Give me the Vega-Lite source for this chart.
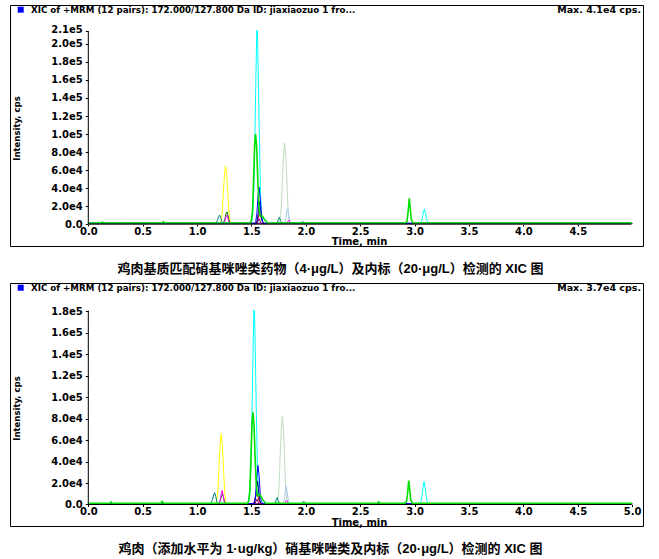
{
  "$schema": "https://vega.github.io/schema/vega-lite/v6.json",
  "background": "white",
  "padding": {"left": 9, "top": 4, "right": 5, "bottom": 5},
  "config": {
    "view": {"stroke": "black", "strokeWidth": 1},
    "font": "DejaVu Sans",
    "axis": {
      "grid": false,
      "domain": false,
      "labelFont": "DejaVu Sans",
      "labelFontWeight": "bold",
      "labelFontSize": 10,
      "labelColor": "black",
      "tickColor": "black",
      "titleFont": "DejaVu Sans",
      "titleFontWeight": "bold",
      "titleColor": "black",
      "labelOverlap": false,
      "labelFlush": false,
      "tickCount": 40
    }
  },
  "spacing": 37,
  "bounds": "flush",
  "datasets": {
    "A": [
      {"s":"q","t":0,"v":300},{"s":"q","t":1.75,"v":300},{"s":"q","t":1.765,"v":5400},{"s":"q","t":1.775,"v":20000},{"s":"q","t":1.785,"v":50000},{"s":"q","t":1.795,"v":76000},{"s":"q","t":1.805,"v":90000},{"s":"q","t":1.815,"v":76000},{"s":"q","t":1.825,"v":50000},{"s":"q","t":1.835,"v":20000},{"s":"q","t":1.845,"v":5400},{"s":"q","t":1.86,"v":300},{"s":"q","t":5,"v":300},
      {"s":"l","t":0,"v":200},{"s":"l","t":1.80,"v":200},{"s":"l","t":1.815,"v":6000},{"s":"l","t":1.825,"v":14000},{"s":"l","t":1.832,"v":17000},{"s":"l","t":1.842,"v":10000},{"s":"l","t":1.852,"v":3000},{"s":"l","t":1.865,"v":200},{"s":"l","t":5,"v":200},
      {"s":"y","t":0,"v":400},{"s":"y","t":1.207,"v":400},{"s":"y","t":1.222,"v":3900},{"s":"y","t":1.232,"v":14000},{"s":"y","t":1.242,"v":35500},{"s":"y","t":1.252,"v":55000},{"s":"y","t":1.262,"v":64500},{"s":"y","t":1.272,"v":55000},{"s":"y","t":1.282,"v":35500},{"s":"y","t":1.292,"v":14000},{"s":"y","t":1.302,"v":3900},{"s":"y","t":1.317,"v":400},{"s":"y","t":5,"v":400},
      {"s":"c","t":0,"v":600},{"s":"c","t":1.497,"v":600},{"s":"c","t":1.512,"v":10000},{"s":"c","t":1.522,"v":40000},{"s":"c","t":1.532,"v":100000},{"s":"c","t":1.542,"v":170000},{"s":"c","t":1.549,"v":215000},{"s":"c","t":1.555,"v":215000},{"s":"c","t":1.562,"v":170000},{"s":"c","t":1.572,"v":100000},{"s":"c","t":1.582,"v":40000},{"s":"c","t":1.592,"v":10000},{"s":"c","t":1.607,"v":600},{"s":"c","t":3.045,"v":600},{"s":"c","t":3.06,"v":1500},{"s":"c","t":3.07,"v":6000},{"s":"c","t":3.08,"v":12000},{"s":"c","t":3.09,"v":16700},{"s":"c","t":3.10,"v":12000},{"s":"c","t":3.11,"v":6000},{"s":"c","t":3.12,"v":1500},{"s":"c","t":3.135,"v":600},{"s":"c","t":5,"v":600},
      {"s":"t","t":0,"v":900},{"s":"t","t":0.35,"v":900},{"s":"t","t":0.36,"v":1800},{"s":"t","t":0.37,"v":900},{"s":"t","t":1.17,"v":900},{"s":"t","t":1.187,"v":4000},{"s":"t","t":1.197,"v":8000},{"s":"t","t":1.207,"v":10000},{"s":"t","t":1.217,"v":7000},{"s":"t","t":1.227,"v":2500},{"s":"t","t":1.24,"v":900},{"s":"t","t":1.735,"v":900},{"s":"t","t":1.748,"v":5000},{"s":"t","t":1.757,"v":7500},{"s":"t","t":1.767,"v":4000},{"s":"t","t":1.78,"v":900},{"s":"t","t":1.95,"v":900},{"s":"t","t":1.97,"v":2800},{"s":"t","t":1.99,"v":900},{"s":"t","t":5,"v":900},
      {"s":"d","t":0,"v":700},{"s":"d","t":1.24,"v":700},{"s":"d","t":1.255,"v":5000},{"s":"d","t":1.265,"v":11000},{"s":"d","t":1.275,"v":13500},{"s":"d","t":1.285,"v":9000},{"s":"d","t":1.295,"v":3500},{"s":"d","t":1.31,"v":700},{"s":"d","t":5,"v":700},
      {"s":"m","t":0,"v":500},{"s":"m","t":1.24,"v":500},{"s":"m","t":1.257,"v":4000},{"s":"m","t":1.267,"v":8500},{"s":"m","t":1.275,"v":10000},{"s":"m","t":1.285,"v":6000},{"s":"m","t":1.297,"v":500},{"s":"m","t":1.825,"v":500},{"s":"m","t":1.835,"v":3000},{"s":"m","t":1.843,"v":4500},{"s":"m","t":1.853,"v":2500},{"s":"m","t":1.865,"v":500},{"s":"m","t":5,"v":500},
      {"s":"r","t":0,"v":500},{"s":"r","t":1.54,"v":500},{"s":"r","t":1.555,"v":4000},{"s":"r","t":1.565,"v":9000},{"s":"r","t":1.575,"v":12500},{"s":"r","t":1.585,"v":9000},{"s":"r","t":1.595,"v":4000},{"s":"r","t":1.61,"v":500},{"s":"r","t":5,"v":500},
      {"s":"p","t":0,"v":400},{"s":"p","t":1.55,"v":400},{"s":"p","t":1.56,"v":3000},{"s":"p","t":1.57,"v":6000},{"s":"p","t":1.58,"v":3000},{"s":"p","t":1.59,"v":400},{"s":"p","t":5,"v":400},
      {"s":"n","t":0,"v":600},{"s":"n","t":1.545,"v":600},{"s":"n","t":1.555,"v":5000},{"s":"n","t":1.565,"v":15000},{"s":"n","t":1.575,"v":25000},{"s":"n","t":1.585,"v":15000},{"s":"n","t":1.595,"v":5000},{"s":"n","t":1.61,"v":600},{"s":"n","t":5,"v":600},
      {"s":"b","t":0,"v":800},{"s":"b","t":1.53,"v":800},{"s":"b","t":1.54,"v":3000},{"s":"b","t":1.55,"v":12000},{"s":"b","t":1.56,"v":30000},{"s":"b","t":1.57,"v":41000},{"s":"b","t":1.58,"v":30000},{"s":"b","t":1.59,"v":12000},{"s":"b","t":1.60,"v":3000},{"s":"b","t":1.615,"v":800},{"s":"b","t":5,"v":800},
      {"s":"g","t":0,"v":1200},{"s":"g","t":0.12,"v":1200},{"s":"g","t":0.13,"v":2200},{"s":"g","t":0.14,"v":1200},{"s":"g","t":0.68,"v":1200},{"s":"g","t":0.69,"v":2500},{"s":"g","t":0.70,"v":1200},{"s":"g","t":1.49,"v":1200},{"s":"g","t":1.50,"v":4000},{"s":"g","t":1.51,"v":15000},{"s":"g","t":1.52,"v":50000},{"s":"g","t":1.53,"v":90000},{"s":"g","t":1.538,"v":100000},{"s":"g","t":1.548,"v":85000},{"s":"g","t":1.558,"v":50000},{"s":"g","t":1.568,"v":22000},{"s":"g","t":1.578,"v":9000},{"s":"g","t":1.60,"v":9000},{"s":"g","t":1.62,"v":5000},{"s":"g","t":1.65,"v":1200},{"s":"g","t":2.915,"v":1200},{"s":"g","t":2.93,"v":3000},{"s":"g","t":2.94,"v":13000},{"s":"g","t":2.951,"v":28500},{"s":"g","t":2.96,"v":17000},{"s":"g","t":2.97,"v":5000},{"s":"g","t":2.985,"v":1200},{"s":"g","t":5,"v":1200}
    ],
    "B": [
      {"s":"q","t":0,"v":300},{"s":"q","t":1.729,"v":300},{"s":"q","t":1.744,"v":4900},{"s":"q","t":1.754,"v":18000},{"s":"q","t":1.764,"v":45000},{"s":"q","t":1.774,"v":70000},{"s":"q","t":1.784,"v":82000},{"s":"q","t":1.794,"v":70000},{"s":"q","t":1.804,"v":45000},{"s":"q","t":1.814,"v":18000},{"s":"q","t":1.824,"v":4900},{"s":"q","t":1.839,"v":300},{"s":"q","t":5,"v":300},
      {"s":"l","t":0,"v":200},{"s":"l","t":1.79,"v":200},{"s":"l","t":1.805,"v":6000},{"s":"l","t":1.813,"v":14000},{"s":"l","t":1.82,"v":17000},{"s":"l","t":1.83,"v":10000},{"s":"l","t":1.84,"v":3000},{"s":"l","t":1.855,"v":200},{"s":"l","t":5,"v":200},
      {"s":"y","t":0,"v":400},{"s":"y","t":1.167,"v":400},{"s":"y","t":1.182,"v":4000},{"s":"y","t":1.192,"v":14500},{"s":"y","t":1.202,"v":36300},{"s":"y","t":1.212,"v":56000},{"s":"y","t":1.222,"v":66000},{"s":"y","t":1.232,"v":56000},{"s":"y","t":1.242,"v":36300},{"s":"y","t":1.252,"v":14500},{"s":"y","t":1.262,"v":4000},{"s":"y","t":1.277,"v":400},{"s":"y","t":5,"v":400},
      {"s":"c","t":0,"v":600},{"s":"c","t":1.47,"v":600},{"s":"c","t":1.485,"v":8000},{"s":"c","t":1.495,"v":34000},{"s":"c","t":1.505,"v":85000},{"s":"c","t":1.515,"v":145000},{"s":"c","t":1.522,"v":181000},{"s":"c","t":1.528,"v":181000},{"s":"c","t":1.535,"v":145000},{"s":"c","t":1.545,"v":85000},{"s":"c","t":1.555,"v":34000},{"s":"c","t":1.565,"v":8000},{"s":"c","t":1.58,"v":600},{"s":"c","t":3.042,"v":600},{"s":"c","t":3.057,"v":2000},{"s":"c","t":3.067,"v":7500},{"s":"c","t":3.077,"v":15500},{"s":"c","t":3.087,"v":21500},{"s":"c","t":3.097,"v":15500},{"s":"c","t":3.107,"v":7500},{"s":"c","t":3.117,"v":2000},{"s":"c","t":3.132,"v":600},{"s":"c","t":5,"v":600},
      {"s":"t","t":0,"v":900},{"s":"t","t":1.125,"v":900},{"s":"t","t":1.142,"v":4500},{"s":"t","t":1.152,"v":9000},{"s":"t","t":1.162,"v":11000},{"s":"t","t":1.172,"v":7500},{"s":"t","t":1.182,"v":2500},{"s":"t","t":1.195,"v":900},{"s":"t","t":1.715,"v":900},{"s":"t","t":1.728,"v":4500},{"s":"t","t":1.737,"v":6500},{"s":"t","t":1.747,"v":3500},{"s":"t","t":1.76,"v":900},{"s":"t","t":1.96,"v":900},{"s":"t","t":1.98,"v":3000},{"s":"t","t":2.0,"v":900},{"s":"t","t":5,"v":900},
      {"s":"d","t":0,"v":700},{"s":"d","t":1.2,"v":700},{"s":"d","t":1.215,"v":4000},{"s":"d","t":1.225,"v":8500},{"s":"d","t":1.233,"v":10000},{"s":"d","t":1.243,"v":6500},{"s":"d","t":1.253,"v":2500},{"s":"d","t":1.268,"v":700},{"s":"d","t":5,"v":700},
      {"s":"m","t":0,"v":500},{"s":"m","t":1.2,"v":500},{"s":"m","t":1.215,"v":5000},{"s":"m","t":1.224,"v":11000},{"s":"m","t":1.231,"v":13000},{"s":"m","t":1.241,"v":8000},{"s":"m","t":1.25,"v":2500},{"s":"m","t":1.262,"v":500},{"s":"m","t":1.805,"v":500},{"s":"m","t":1.815,"v":2800},{"s":"m","t":1.823,"v":4000},{"s":"m","t":1.833,"v":2200},{"s":"m","t":1.845,"v":500},{"s":"m","t":5,"v":500},
      {"s":"r","t":0,"v":500},{"s":"r","t":1.515,"v":500},{"s":"r","t":1.53,"v":3500},{"s":"r","t":1.54,"v":7500},{"s":"r","t":1.55,"v":10000},{"s":"r","t":1.56,"v":7500},{"s":"r","t":1.57,"v":3000},{"s":"r","t":1.585,"v":500},{"s":"r","t":5,"v":500},
      {"s":"p","t":0,"v":400},{"s":"p","t":1.53,"v":400},{"s":"p","t":1.54,"v":2500},{"s":"p","t":1.55,"v":5000},{"s":"p","t":1.56,"v":2500},{"s":"p","t":1.57,"v":400},{"s":"p","t":5,"v":400},
      {"s":"n","t":0,"v":600},{"s":"n","t":1.525,"v":600},{"s":"n","t":1.535,"v":5000},{"s":"n","t":1.545,"v":14000},{"s":"n","t":1.555,"v":22000},{"s":"n","t":1.565,"v":14000},{"s":"n","t":1.575,"v":4500},{"s":"n","t":1.59,"v":600},{"s":"n","t":5,"v":600},
      {"s":"b","t":0,"v":800},{"s":"b","t":1.52,"v":800},{"s":"b","t":1.53,"v":3000},{"s":"b","t":1.54,"v":11000},{"s":"b","t":1.55,"v":27000},{"s":"b","t":1.56,"v":36400},{"s":"b","t":1.57,"v":27000},{"s":"b","t":1.58,"v":11000},{"s":"b","t":1.59,"v":3000},{"s":"b","t":1.605,"v":800},{"s":"b","t":5,"v":800},
      {"s":"g","t":0,"v":1200},{"s":"g","t":0.2,"v":1200},{"s":"g","t":0.21,"v":2300},{"s":"g","t":0.22,"v":1200},{"s":"g","t":0.67,"v":1200},{"s":"g","t":0.68,"v":2800},{"s":"g","t":0.69,"v":1200},{"s":"g","t":1.465,"v":1200},{"s":"g","t":1.475,"v":4000},{"s":"g","t":1.485,"v":13000},{"s":"g","t":1.495,"v":42000},{"s":"g","t":1.505,"v":76000},{"s":"g","t":1.514,"v":86000},{"s":"g","t":1.524,"v":73000},{"s":"g","t":1.534,"v":43000},{"s":"g","t":1.544,"v":19000},{"s":"g","t":1.555,"v":8000},{"s":"g","t":1.58,"v":9000},{"s":"g","t":1.60,"v":5000},{"s":"g","t":1.63,"v":1200},{"s":"g","t":2.66,"v":1200},{"s":"g","t":2.67,"v":2500},{"s":"g","t":2.68,"v":1200},{"s":"g","t":2.91,"v":1200},{"s":"g","t":2.925,"v":2500},{"s":"g","t":2.935,"v":10000},{"s":"g","t":2.946,"v":22400},{"s":"g","t":2.955,"v":14000},{"s":"g","t":2.965,"v":4000},{"s":"g","t":2.98,"v":1200},{"s":"g","t":5,"v":1200}
    ]
  },
  "vconcat": [
    {
      "width": 633,
      "height": 241,
      "title": {"text": "鸡肉基质匹配硝基咪唑类药物（4·μg/L）及内标（20·μg/L）检测的 XIC 图", "orient": "bottom", "anchor": "middle", "offset": 16, "dx": 4, "font": "Liberation Sans, Noto Sans CJK SC", "fontSize": 13, "fontWeight": "bold", "color": "black"},
      "layer": [
        {
          "data": {"name": "A"},
          "mark": {"type": "line", "interpolate": "linear"},
          "encoding": {
            "x": {"field": "t", "type": "quantitative", "scale": {"domain": [-0.72, 5.1], "nice": false, "zero": false},
              "axis": {"values": [0, 0.5, 1, 1.5, 2, 2.5, 3, 3.5, 4, 4.5], "tickCount": 40, "format": ".1f", "offset": -22, "tickSize": 2, "labelPadding": 0, "labelOverlap": false,
                "title": "Time, min", "titleX": 349, "titleY": 17.5, "titleBaseline": "middle", "titleFontSize": 10}},
            "y": {"field": "v", "type": "quantitative", "scale": {"domain": [-24400, 243300], "nice": false, "zero": false},
              "axis": {"values": [0, 20000, 40000, 60000, 80000, 100000, 120000, 140000, 160000, 180000, 200000, 214000],
                "tickCount": 40,
                "labelExpr": "datum.value == 0 ? '0.0' : replace(format(datum.value, '.1e'), '+', '')",
                "labelOverlap": false,
                "labelOffset": {"condition": {"test": "datum.value == 214000", "value": -2}, "value": 0},
                "offset": -78.3, "tickSize": 3, "labelPadding": 3,
                "title": "Intensity, cps", "titleX": -72, "titleY": 123, "titleAngle": -90, "titleBaseline": "middle", "titleAlign": "center", "titleFontSize": 8.5}},
            "color": {"field": "s", "type": "nominal", "legend": null,
              "scale": {"domain": ["q", "l", "y", "c", "t", "d", "m", "r", "p", "n", "b", "g"],
                "range": ["#c0dcc0", "#a6caf0", "#ffff00", "#00ffff", "#008080", "#008000", "#ff00ff", "#ff0000", "#800080", "#000080", "#0000ff", "#00e000"]}},
            "strokeWidth": {"condition": {"test": "datum.s === 'g'", "value": 1.6}, "value": 1}
          }
        },
        {
          "data": {"values": [{}]},
          "mark": {"type": "rule", "color": "black", "strokeWidth": 1},
          "encoding": {"x": {"datum": 0}, "x2": {"datum": 4.99}, "y": {"datum": 0}}
        },
        {
          "data": {"values": [{}]},
          "mark": {"type": "rule", "color": "black", "strokeWidth": 1},
          "encoding": {"x": {"datum": 0}, "y": {"datum": 0}, "y2": {"datum": 214000}}
        },
        {
          "data": {"values": [{}]},
          "mark": {"type": "point", "shape": "square", "filled": true, "color": "#0000ff", "size": 36, "opacity": 1},
          "encoding": {"x": {"datum": -0.6216}, "y": {"datum": 238100}}
        },
        {
          "data": {"values": [{}]},
          "mark": {"type": "text", "align": "left", "baseline": "middle", "font": "DejaVu Sans", "fontWeight": "bold", "fontSize": 8.7, "color": "black"},
          "encoding": {"x": {"datum": -0.527}, "y": {"datum": 238100}, "text": {"value": "XIC of +MRM (12 pairs): 172.000/127.800 Da ID: jiaxiaozuo 1 fro..."}}
        },
        {
          "data": {"values": [{}]},
          "mark": {"type": "text", "align": "right", "baseline": "middle", "font": "DejaVu Sans", "fontWeight": "bold", "fontSize": 9.5, "color": "black"},
          "encoding": {"x": {"datum": 5.082}, "y": {"datum": 238100}, "text": {"value": "Max. 4.1e4 cps."}}
        }
      ]
    },
    {
      "width": 633,
      "height": 243,
      "title": {"text": "鸡肉（添加水平为 1·ug/kg）硝基咪唑类及内标（20·μg/L）检测的 XIC 图", "orient": "bottom", "anchor": "middle", "offset": 16, "dx": 4, "font": "Liberation Sans, Noto Sans CJK SC", "fontSize": 13, "fontWeight": "bold", "color": "black"},
      "layer": [
        {
          "data": {"name": "B"},
          "mark": {"type": "line", "interpolate": "linear"},
          "encoding": {
            "x": {"field": "t", "type": "quantitative", "scale": {"domain": [-0.72, 5.1], "nice": false, "zero": false},
              "axis": {"values": [0, 0.5, 1, 1.5, 2, 2.5, 3, 3.5, 4, 4.5, 5], "tickCount": 40, "format": ".1f", "offset": -21.5, "tickSize": 2, "labelPadding": 0, "labelOverlap": false,
                "title": "Time, min", "titleX": 349, "titleY": 17.5, "titleBaseline": "middle", "titleFontSize": 10}},
            "y": {"field": "v", "type": "quantitative", "scale": {"domain": [-20050, 206500], "nice": false, "zero": false},
              "axis": {"values": [0, 20000, 40000, 60000, 80000, 100000, 120000, 140000, 160000, 180000],
                "tickCount": 40,
                "labelExpr": "datum.value == 0 ? '0.0' : replace(format(datum.value, '.1e'), '+', '')",
                "labelOverlap": false,
                "offset": -78.3, "tickSize": 3, "labelPadding": 3,
                "title": "Intensity, cps", "titleX": -72, "titleY": 125, "titleAngle": -90, "titleBaseline": "middle", "titleAlign": "center", "titleFontSize": 8.5}},
            "color": {"field": "s", "type": "nominal", "legend": null,
              "scale": {"domain": ["q", "l", "y", "c", "t", "d", "m", "r", "p", "n", "b", "g"],
                "range": ["#c0dcc0", "#a6caf0", "#ffff00", "#00ffff", "#008080", "#008000", "#ff00ff", "#ff0000", "#800080", "#000080", "#0000ff", "#00e000"]}},
            "strokeWidth": {"condition": {"test": "datum.s === 'g'", "value": 1.6}, "value": 1}
          }
        },
        {
          "data": {"values": [{}]},
          "mark": {"type": "rule", "color": "black", "strokeWidth": 1},
          "encoding": {"x": {"datum": 0}, "x2": {"datum": 4.99}, "y": {"datum": 0}}
        },
        {
          "data": {"values": [{}]},
          "mark": {"type": "rule", "color": "black", "strokeWidth": 1},
          "encoding": {"x": {"datum": 0}, "y": {"datum": 0}, "y2": {"datum": 180700}}
        },
        {
          "data": {"values": [{}]},
          "mark": {"type": "point", "shape": "square", "filled": true, "color": "#0000ff", "size": 36, "opacity": 1},
          "encoding": {"x": {"datum": -0.6216}, "y": {"datum": 202100}}
        },
        {
          "data": {"values": [{}]},
          "mark": {"type": "text", "align": "left", "baseline": "middle", "font": "DejaVu Sans", "fontWeight": "bold", "fontSize": 8.7, "color": "black"},
          "encoding": {"x": {"datum": -0.527}, "y": {"datum": 202100}, "text": {"value": "XIC of +MRM (12 pairs): 172.000/127.800 Da ID: jiaxiaozuo 1 fro..."}}
        },
        {
          "data": {"values": [{}]},
          "mark": {"type": "text", "align": "right", "baseline": "middle", "font": "DejaVu Sans", "fontWeight": "bold", "fontSize": 9.5, "color": "black"},
          "encoding": {"x": {"datum": 5.082}, "y": {"datum": 202100}, "text": {"value": "Max. 3.7e4 cps."}}
        }
      ]
    }
  ]
}
